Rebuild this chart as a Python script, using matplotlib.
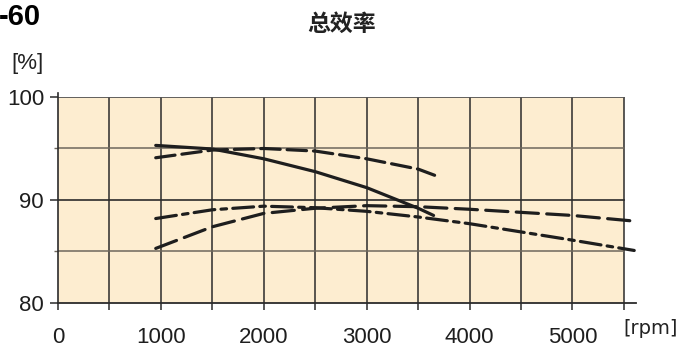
import matplotlib
matplotlib.use("Agg")
import matplotlib.pyplot as plt

# efficiency curves
rpm_a = [950, 1500, 2000, 2500, 3000, 3500, 3650]
eff_a = [95.3, 94.95, 94.0, 92.75, 91.2, 89.2, 88.5]      # solid

rpm_b = [950, 1500, 2000, 2500, 3000, 3500, 3660]
eff_b = [94.1, 94.85, 95.0, 94.75, 94.0, 93.0, 92.4]      # dashed

rpm_c = [950, 1500, 2000, 2500, 3000, 3500, 4000, 4500, 5000, 5600]
eff_c = [88.2, 89.05, 89.4, 89.25, 88.9, 88.35, 87.7, 86.9, 86.1, 85.1]   # dash-dot

rpm_d = [950, 1500, 2000, 2500, 3000, 3500, 4000, 4500, 5000, 5600]
eff_d = [85.3, 87.4, 88.7, 89.2, 89.45, 89.35, 89.1, 88.8, 88.5, 87.95]   # long dash

x_ticks = [0, 1000, 2000, 3000, 4000, 5000]
y_ticks = [80, 90, 100]

plt.rcParams['font.family'] = ['Liberation Sans', 'DejaVu Sans']
plt.rcParams['lines.scale_dashes'] = False

fig = plt.figure(figsize=(6.83, 3.47), dpi=100)
ax = fig.add_axes([0.0849, 0.1268, 0.8467, 0.5937])

# cream panel and grid
ax.fill_between([0, 5500], 80, 100, color='#fdedd0', lw=0, zorder=0)
for xv in range(500, 5501, 500):
    ax.plot([xv, xv], [80, 100], color='#2b2b2b', lw=1.1, zorder=1)
ax.plot([0, 5500], [95, 95], color='#6e675c', lw=1.1, zorder=1)
ax.plot([0, 5500], [85, 85], color='#6e675c', lw=1.1, zorder=1)
ax.plot([0, 5500], [90, 90], color='#2b2b2b', lw=1.2, zorder=1)
ax.plot([0, 5500], [100, 100], color='#555555', lw=1.3, zorder=1)

kw = dict(color='#1e1e1e', lw=2.3, zorder=3, solid_capstyle='round', dash_capstyle='round')
ax.plot(rpm_a, eff_a, **kw)
ax.plot(rpm_b, eff_b, dashes=(14, 5), **kw)
ax.plot(rpm_c, eff_c, dashes=(15, 4.5, 4, 4.5), **kw)
ax.plot(rpm_d, eff_d, dashes=(16, 6), **kw)

ax.set_xlim(0, 5620)
ax.set_ylim(80, 100)
for s in ['top', 'right']:
    ax.spines[s].set_visible(False)
ax.spines['left'].set_bounds(80, 100.4)
ax.spines['left'].set_linewidth(1.2)
ax.spines['bottom'].set_linewidth(1.3)
ax.spines['left'].set_color('#2b2b2b')
ax.spines['bottom'].set_color('#2b2b2b')
ax.spines['bottom'].set_zorder(2)

ax.set_xticks(x_ticks)
ax.set_xticks(range(500, 5501, 1000), minor=True)
ax.set_yticks(y_ticks)
ax.set_yticks([85, 95], minor=True)
ax.tick_params(axis='x', which='both', direction='out', length=5, width=1.1,
               color='#2b2b2b', labelsize=16, pad=12, labelcolor='#1e1e1e')
ax.tick_params(axis='y', which='major', direction='out', length=6, width=1.1,
               color='#2b2b2b', labelsize=16, pad=4, labelcolor='#1e1e1e')
ax.tick_params(axis='y', which='minor', direction='out', length=3, width=1.0,
               color='#6e675c')

fig.text(-0.002, 0.952, "-60", fontsize=21, fontweight='bold', ha='left', va='center')
fig.text(0.5007, 0.931, "总效率", fontsize=16.5, fontweight='bold', ha='center', va='center',
         family=['Noto Sans CJK SC', 'DejaVu Sans'], color='#222222')
fig.text(0.016, 0.818, "[%]", fontsize=16, ha='left', va='center', color='#222222')
fig.text(0.912, 0.052, "[rpm]", fontsize=14, ha='left', va='center', color='#222222',
         family=['DejaVu Sans'])

fig.savefig("out.png", dpi=100)
